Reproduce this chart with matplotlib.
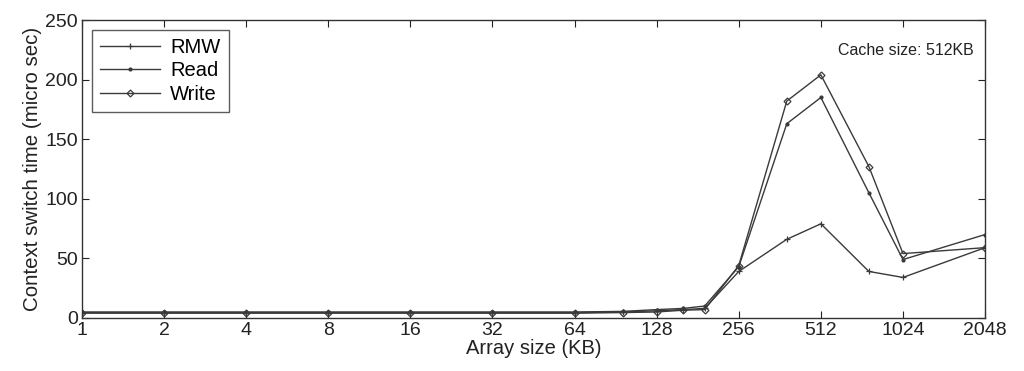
import matplotlib.pyplot as plt
from matplotlib.ticker import FixedLocator, NullLocator

plt.rcParams['font.family'] = ['Liberation Sans', 'DejaVu Sans']

# array sizes (KB)
sizes = [1, 2, 4, 8, 16, 32, 64, 96, 128, 160, 192, 256, 384, 512, 768, 1024, 2048]
rmw = [4.5, 4.5, 4.5, 4.5, 4.5, 4.5, 4.5, 5, 6, 7, 8, 39, 66, 79, 39, 34, 59]
read = [5, 5, 5, 5, 5, 5, 5, 5.5, 7, 8, 10, 43, 163, 185, 105, 49, 70]
write = [4, 4, 4, 4, 4, 4, 4, 4.5, 5, 6.5, 7, 44, 182, 204, 127, 54, 59]
xticks = [1, 2, 4, 8, 16, 32, 64, 128, 256, 512, 1024, 2048]

fig = plt.figure(figsize=(10.24, 3.71), dpi=100)
ax = fig.add_axes([0.080, 0.143, 0.882, 0.803])

col = '#3a3a3a'
ax.plot(sizes, rmw, color=col, lw=1.0, marker='+', ms=5, mew=0.9, label='RMW')
ax.plot(sizes, read, color=col, lw=1.0, marker='.', ms=4, label='Read')
ax.plot(sizes, write, color=col, lw=1.0, marker='D', ms=3.5, mfc='none', mew=0.9, label='Write')

ax.set_xscale('log', base=2)
ax.set_xlim(1, 2048)
ax.set_ylim(0, 250)
ax.xaxis.set_major_locator(FixedLocator(xticks))
ax.xaxis.set_minor_locator(NullLocator())
ax.set_xticklabels([str(t) for t in xticks])
ax.set_yticks([0, 50, 100, 150, 200, 250])

ax.tick_params(direction='in', top=True, right=True, length=5, width=0.8,
               labelsize=14, colors='#222222', pad=3)
for s in ax.spines.values():
    s.set_color('#333333')
    s.set_linewidth(1.0)

ax.set_xlabel('Array size (KB)', fontsize=14.5, color='#222222', labelpad=0)
ax.set_ylabel('Context switch time (micro sec)', fontsize=14.8, color='#222222', labelpad=2)

ax.text(0.987, 0.899, 'Cache size: 512KB', transform=ax.transAxes,
        ha='right', va='center', fontsize=11.5, color='#222222')

leg = ax.legend(loc='upper left', bbox_to_anchor=(0.011, 0.967), fontsize=14.5,
                frameon=True, fancybox=False, edgecolor='#333333',
                borderpad=0.4, labelspacing=0.22, handlelength=3.0,
                handletextpad=0.5, borderaxespad=0)
leg.get_frame().set_linewidth(1.0)

fig.savefig('out.png', dpi=100)
